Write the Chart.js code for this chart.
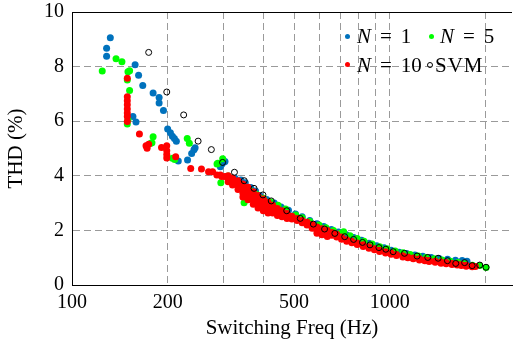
<!DOCTYPE html>
<html>
<head>
<meta charset="utf-8">
<script src="https://cdn.jsdelivr.net/npm/chart.js@4.4.1/dist/chart.umd.min.js"></script>
<style>
  html, body { margin: 0; padding: 0; background: #fff; }
  #wrap { position: relative; width: 517px; height: 345px; }
  #thd-chart { position: absolute; left: 0; top: 0; }
  .legend-item {
    position: absolute;
    font-family: "Liberation Serif", serif;
    font-size: 21px;
    line-height: 24px;
    white-space: nowrap;
    color: #000;
  }
  .legend-item i { font-style: italic; }
  .legend-item .eq { margin: 0 9px; }
  .legend-dot { position: absolute; width: 5px; height: 5px; border-radius: 50%; }
</style>
</head>
<body>
<div id="wrap">
  <canvas id="thd-chart" width="517" height="345"></canvas>
  <span class="legend-dot" style="left:345px; top:34px; background:#0072bd"></span>
  <div class="legend-item" style="left:357px; top:24px"><i>N</i><span class="eq">=</span>1</div>
  <span class="legend-dot" style="left:429px; top:34px; background:#00ff00"></span>
  <div class="legend-item" style="left:440px; top:24px"><i>N</i><span class="eq">=</span>5</div>
  <span class="legend-dot" style="left:345px; top:62px; background:#ff0000"></span>
  <div class="legend-item" style="left:357px; top:53px"><i>N</i><span class="eq">=</span>10</div>
  <span class="legend-dot" style="left:427px; top:62px; width:4px; height:4px; border:1px solid #000"></span>
  <div class="legend-item" style="left:435px; top:53px; letter-spacing:1px">SVM</div>
</div>
<script>
// [switching frequency (Hz), THD (%)]
const n1Data = [
  [132, 9.06], [128.5, 8.67], [128.5, 8.38], [158, 8.07], [162, 7.68], [167, 7.31],
  [180, 7.03], [188, 6.87], [188, 6.67], [194, 6.39], [155.5, 6.17], [159, 5.97],
  [200, 5.71], [204, 5.58], [207, 5.45], [210, 5.37], [213, 5.27], [216, 4.54],
  [231, 4.58], [238, 4.82], [242, 4.95], [244, 5.03], [293, 4.33], [296, 4.42],
  [300, 4.5], [303, 4.52], [322, 3.88], [326, 3.91], [335, 3.78], [340, 3.85],
  [351, 3.75], [365, 3.57], [378, 3.44], [390, 3.28], [410, 3.13], [433, 3.0],
  [455, 2.86], [480, 2.74], [505, 2.6], [530, 2.5], [560, 2.36], [590, 2.24],
  [620, 2.14], [655, 2.03], [690, 1.94], [730, 1.84], [770, 1.74], [815, 1.64],
  [860, 1.53], [910, 1.44], [960, 1.36], [1010, 1.27], [1070, 1.2], [1130, 1.15],
  [1200, 1.1], [1270, 1.05], [1350, 1.01], [1430, 0.97], [1520, 0.94], [1610, 0.91],
  [1690, 0.9], [1750, 0.87]
];

const n5Data = [
  [124.5, 7.84], [137.6, 8.29], [143.6, 8.18], [150, 7.81], [151.8, 7.85], [149.3, 7.51],
  [151.8, 7.12], [149.3, 5.9], [150, 6.05], [180, 5.43], [178.5, 5.21], [177, 5.19],
  [230.5, 5.37], [234, 5.19], [210.5, 4.6], [207, 4.64], [298, 4.62], [287.6, 4.46],
  [286, 4.43], [294, 3.75], [307, 3.97], [310, 3.99], [330, 3.7], [348, 3.01],
  [350, 3.55], [365, 3.45], [380, 3.32], [400, 3.18], [420, 3.05], [445, 2.92],
  [470, 2.78], [506, 2.56], [530, 2.46], [560, 2.33], [599, 2.2], [630, 2.1],
  [665, 2.0], [700, 1.9], [716, 1.95], [750, 1.8], [790, 1.7], [830, 1.6],
  [880, 1.5], [930, 1.4], [980, 1.33], [1040, 1.25], [1100, 1.18], [1160, 1.12],
  [1230, 1.06], [1300, 1.01], [1380, 0.96], [1460, 0.92], [1550, 0.87], [1640, 0.82],
  [1720, 0.78], [1820, 0.72], [1920, 0.71], [2010, 0.64]
];

const n10Data = [
  [149.3, 7.57], [149.3, 6.9], [149.3, 6.75], [149.3, 6.6], [149.3, 6.45], [149.3, 6.3],
  [149.3, 6.17], [149.3, 5.99], [163, 5.53], [174.3, 5.16], [172.3, 5.01], [171, 5.1],
  [191.3, 5.04], [198.7, 5.1], [198.7, 4.92], [198.7, 4.78], [198.7, 4.65], [212, 4.7],
  [236.4, 4.27], [255.5, 4.25], [269, 4.15], [277, 4.15], [285.7, 4.03], [293, 4.03],
  [296, 3.97], [303, 3.97],
  [310, 4.0], [310, 3.88], [310, 3.78], [320, 3.92], [320, 3.78], [320, 3.66],
  [333, 3.82], [333, 3.66], [333, 3.5], [345, 3.7], [345, 3.52], [345, 3.36], [345, 3.22],
  [358, 3.58], [358, 3.4], [358, 3.24], [358, 3.12], [372, 3.42], [372, 3.25], [372, 3.1], [372, 2.96],
  [385, 3.28], [385, 3.1], [385, 2.95], [385, 2.82], [400, 3.15], [400, 3.0], [400, 2.85], [400, 2.72],
  [414, 3.03], [414, 2.88], [414, 2.75], [414, 2.64], [428, 2.92], [428, 2.78], [428, 2.64],
  [443, 2.8], [443, 2.68], [443, 2.55], [458, 2.72], [458, 2.6], [458, 2.5],
  [475, 2.62], [475, 2.52], [475, 2.44], [492, 2.52], [492, 2.42], [511, 2.44], [511, 2.36],
  [530, 2.36], [530, 2.28], [549, 2.3], [549, 2.2], [570, 2.22], [570, 2.08],
  [590, 2.12], [590, 2.0], [590, 1.9], [612, 2.06], [612, 1.94], [612, 1.84],
  [636, 2.0], [636, 1.88], [636, 1.78], [658, 1.92], [658, 1.82], [681, 1.86], [681, 1.76],
  [705, 1.76], [705, 1.68], [732, 1.66], [732, 1.6], [760, 1.6], [760, 1.55],
  [790, 1.54], [790, 1.48], [825, 1.47], [825, 1.41], [860, 1.4], [860, 1.35],
  [895, 1.33], [895, 1.29], [929, 1.27], [929, 1.23], [970, 1.22], [970, 1.17],
  [1010, 1.17], [1010, 1.13], [1050, 1.12], [1050, 1.08], [1100, 1.07], [1100, 1.03],
  [1140, 1.03], [1140, 1.0], [1186, 0.99], [1186, 0.96], [1240, 0.96], [1240, 0.92],
  [1290, 0.92], [1290, 0.89], [1330, 0.9], [1330, 0.86], [1390, 0.87], [1390, 0.83],
  [1450, 0.84], [1450, 0.8], [1505, 0.82], [1505, 0.78], [1570, 0.79], [1570, 0.75],
  [1630, 0.76], [1630, 0.73], [1680, 0.74], [1680, 0.71], [1740, 0.72], [1740, 0.69],
  [1817, 0.7], [1817, 0.67], [1860, 0.68]
];

const svmData = [
  [174.3, 8.52], [198.7, 7.07], [224.6, 6.23], [249.4, 5.27], [274.5, 4.96], [297.8, 4.49],
  [324.5, 4.13], [348.3, 3.82], [374, 3.54], [399, 3.3], [423.6, 3.08], [474, 2.72],
  [522.8, 2.44], [575, 2.23], [623.5, 2.05], [671.6, 1.89], [721.6, 1.77], [769.5, 1.67],
  [820.8, 1.56], [866.6, 1.47], [924.5, 1.37], [972, 1.31], [1025, 1.22], [1113, 1.16],
  [1219, 1.06], [1317, 1.01], [1420, 0.98], [1519, 0.89], [1613, 0.79], [1720, 0.82],
  [1817, 0.71], [1919, 0.73], [2009, 0.65]
];

const xGridValues = [100, 200, 300, 400, 500, 600, 700, 800, 900, 1000, 2000];
const xTickLabels = [100, 200, 500, 1000];
const yTickValues = [0, 2, 4, 6, 8, 10];

const toPoints = (pairs) => pairs.map(([f, thd]) => ({ x: f, y: thd }));

const serifFont = { family: '"Liberation Serif", serif', size: 20 };
const gridGray = '#9a9a9a';

// solid frame line along the top of the plot
const topFrame = {
  id: 'topFrame',
  afterDraw(chart) {
    const { ctx, chartArea } = chart;
    ctx.save();
    ctx.strokeStyle = '#000';
    ctx.lineWidth = 1;
    ctx.beginPath();
    ctx.moveTo(chartArea.left, chartArea.top + 0.5);
    ctx.lineTo(chartArea.right, chartArea.top + 0.5);
    ctx.stroke();
    ctx.restore();
  }
};

new Chart(document.getElementById('thd-chart'), {
  type: 'scatter',
  data: {
    datasets: [
      { label: 'N = 1', data: toPoints(n1Data), backgroundColor: '#0072bd', pointRadius: 3.5, borderWidth: 0, order: 3 },
      { label: 'N = 5', data: toPoints(n5Data), backgroundColor: '#00ff00', pointRadius: 3.5, borderWidth: 0, order: 2 },
      { label: 'N = 10', data: toPoints(n10Data), backgroundColor: '#ff0000', pointRadius: 3.5, borderWidth: 0, order: 1 },
      { label: 'SVM', data: toPoints(svmData), backgroundColor: 'rgba(0,0,0,0)', borderColor: '#000', borderWidth: 1, pointRadius: 3, order: 0 }
    ]
  },
  options: {
    responsive: false,
    animation: false,
    layout: { padding: { top: 12, right: 0, left: 0, bottom: 0 } },
    plugins: {
      legend: { display: false },
      tooltip: { enabled: false }
    },
    scales: {
      x: {
        type: 'logarithmic',
        min: 100,
        max: 2425,
        afterBuildTicks: (axis) => {
          axis.ticks = xGridValues.map(v => ({ value: v }));
        },
        afterFit: (axis) => {
          axis.height = 60;
          axis.paddingLeft = 0;
          axis.paddingRight = 0;
        },
        ticks: {
          autoSkip: false,
          maxRotation: 0,
          padding: 6,
          color: '#000',
          font: serifFont,
          callback: (value) => xTickLabels.includes(value) ? String(value) : ''
        },
        grid: {
          drawTicks: false,
          color: (ctx) => ctx.tick && ctx.tick.value === 100 ? 'rgba(0,0,0,0)' : gridGray,
          lineWidth: 1
        },
        border: { display: true, color: '#000', width: 1, dash: [7, 4] },
        title: {
          display: true,
          text: 'Switching Freq (Hz)',
          color: '#000',
          font: { family: '"Liberation Serif", serif', size: 21 },
          padding: { top: 0, bottom: 4 }
        }
      },
      y: {
        min: 0,
        max: 10,
        afterBuildTicks: (axis) => {
          axis.ticks = yTickValues.map(v => ({ value: v }));
        },
        afterFit: (axis) => {
          axis.width = 72;
          axis.paddingTop = 0;
          axis.paddingBottom = 0;
        },
        ticks: {
          padding: 8,
          color: '#000',
          font: serifFont
        },
        grid: {
          drawTicks: false,
          color: (ctx) => ctx.tick && (ctx.tick.value === 0 || ctx.tick.value === 10) ? 'rgba(0,0,0,0)' : gridGray,
          lineWidth: 1
        },
        border: { display: true, color: '#000', width: 1, dash: [7, 4] },
        title: {
          display: true,
          text: 'THD (%)',
          color: '#000',
          font: { family: '"Liberation Serif", serif', size: 21 },
          padding: { top: 4, bottom: 0 }
        }
      }
    }
  },
  plugins: [topFrame]
});
</script>
</body>
</html>
